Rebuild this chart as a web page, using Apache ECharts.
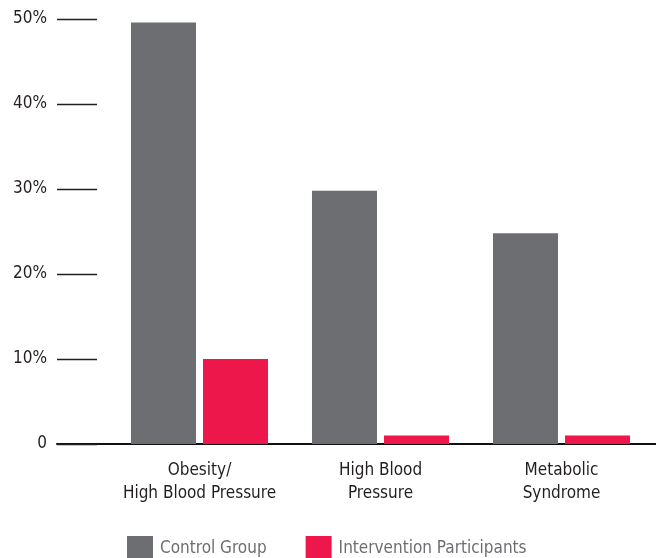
<!DOCTYPE html>
<html>
<head>
<meta charset="utf-8">
<script src="https://cdn.jsdelivr.net/npm/echarts@6/dist/echarts.min.js"></script>
<style>
html,body{margin:0;padding:0;background:#fff;}
#chart{width:656px;height:558px;}
</style>
</head>
<body>
<div id="chart"></div>
<script>
const categories = ['Obesity/\nHigh Blood Pressure', 'High Blood\nPressure', 'Metabolic\nSyndrome'];
const controlGroup = [49.6, 29.8, 24.8];
const interventionParticipants = [10, 1, 1];
const yTicks = [0, 10, 20, 30, 40, 50];

const FONT = "'Liberation Sans Narrow', 'DejaVu Sans Condensed', 'Noto Sans', sans-serif";
const FS = 17;
const chart = echarts.init(document.getElementById('chart'), null, {renderer: 'canvas'});
chart.setOption({
  animation: false,
  backgroundColor: '#ffffff',
  textStyle: {fontFamily: FONT},
  legend: {
    left: 127, top: 536, padding: 0,
    itemWidth: 26, itemHeight: 26, itemGap: 39,
    icon: 'rect',
    textStyle: {fontFamily: FONT, fontSize: FS, color: '#6d6e71', padding: [0, 0, 0, 2]},
    data: ['Control Group', 'Intervention Participants']
  },
  grid: [
    {left: 57, right: 0, top: 19, bottom: 114},
    {left: 109, right: 4, top: 19, bottom: 114}
  ],
  xAxis: [
    {gridIndex: 0, type: 'value', min: 0, max: 1,
     axisLine: {show: true, lineStyle: {color: '#111', width: 2}},
     axisTick: {show: false}, axisLabel: {show: false}, splitLine: {show: false}},
    {gridIndex: 1, type: 'category', data: categories,
     axisLine: {show: false}, axisTick: {show: false},
     axisLabel: {fontFamily: FONT, fontSize: FS, color: '#231f20', lineHeight: 23, margin: 15, interval: 0}}
  ],
  yAxis: [
    {gridIndex: 0, type: 'value', min: yTicks[0], max: yTicks[yTicks.length - 1], interval: 10,
     axisLine: {show: false},
     axisTick: {show: true, inside: true, length: 40, lineStyle: {color: '#231f20', width: 1.3}},
     axisLabel: {fontFamily: FONT, fontSize: FS, color: '#231f20', margin: 10,
                 formatter: v => v === 0 ? '0' : v + '%'},
     splitLine: {show: false}},
    {gridIndex: 1, type: 'value', min: yTicks[0], max: yTicks[yTicks.length - 1], interval: 10, show: false}
  ],
  series: [
    {name: 'Control Group', type: 'bar', xAxisIndex: 1, yAxisIndex: 1,
     data: controlGroup, barWidth: 65, barGap: '10.8%',
     itemStyle: {color: '#6d6e71'}},
    {name: 'Intervention Participants', type: 'bar', xAxisIndex: 1, yAxisIndex: 1,
     data: interventionParticipants, barWidth: 65, barGap: '10.8%',
     itemStyle: {color: '#ed174b'}}
  ]
});
</script>
</body>
</html>
